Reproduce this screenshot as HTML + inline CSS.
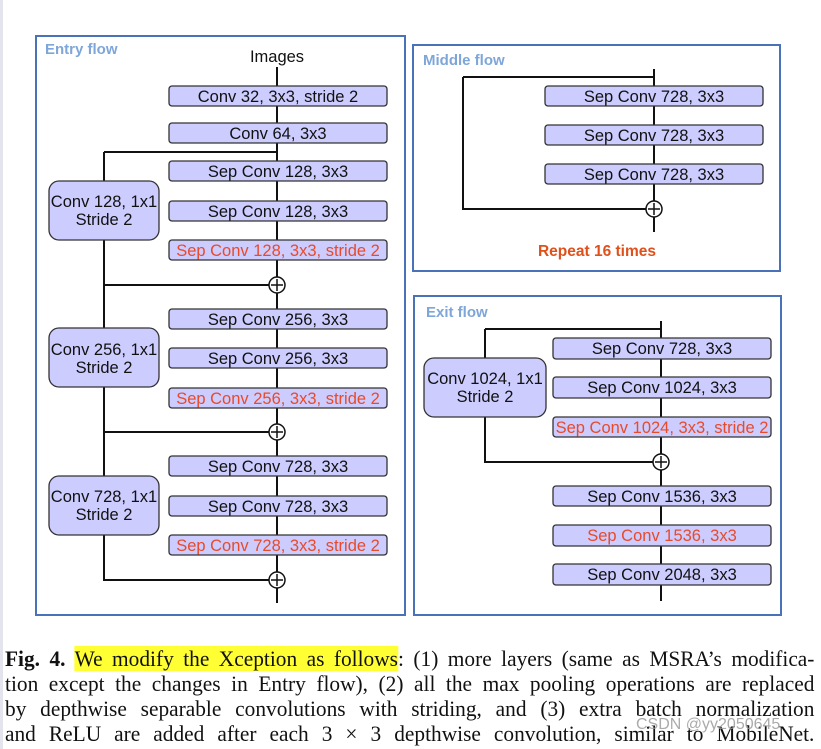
<!DOCTYPE html>
<html><head><meta charset="utf-8"><style>
html,body{margin:0;padding:0;background:#fff;width:821px;height:749px;overflow:hidden}
svg{position:absolute;left:0;top:0}
.cap{position:absolute;left:5px;top:646px;width:852px;font-family:"Liberation Serif",serif;font-size:22.5px;line-height:25px;color:#111;transform:scaleX(0.95);transform-origin:0 0}
.cap div{text-align:justify;text-align-last:justify;white-space:nowrap;height:25px}
.hl{background:#ffff33}
.wm{position:absolute;left:636px;top:716px;font-family:"Liberation Sans",sans-serif;font-size:16px;color:rgba(150,150,150,0.8)}
</style></head><body>
<svg width="821" height="749" font-family="Liberation Sans, sans-serif">
<rect x="0" y="0" width="3" height="749" fill="#e4e4ec"/>
<g fill="none" stroke="#4a72b8" stroke-width="2">
<rect x="36" y="36" width="369" height="579"/>
<rect x="413" y="45" width="367" height="226"/>
<rect x="414" y="296" width="367" height="319"/>
</g>
<g font-weight="bold" font-size="15" fill="#7ea6d8">
<text x="45" y="54">Entry  flow</text>
<text x="423" y="65">Middle  flow</text>
<text x="426" y="317">Exit  flow</text>
</g>
<g stroke="#111" stroke-width="2" fill="none">
<path d="M277 67V603M104 152H277M104 152V580H270M104 285H270M104 432H270"/>
<path d="M654 69V232M463 77H654M463 77V209H647"/>
<path d="M661 321V601M485 329H661M485 329V462H654"/>
</g>
<g fill="#ccccff" stroke="#333" stroke-width="1.3">
<rect x="169" y="86" width="218" height="20" rx="3"/>
<rect x="169" y="123" width="218" height="20" rx="3"/>
<rect x="169" y="161" width="218" height="20" rx="3"/>
<rect x="169" y="201" width="218" height="20" rx="3"/>
<rect x="169" y="240" width="218" height="20" rx="3"/>
<rect x="169" y="309" width="218" height="20" rx="3"/>
<rect x="169" y="348" width="218" height="20" rx="3"/>
<rect x="169" y="388" width="218" height="20" rx="3"/>
<rect x="169" y="456" width="218" height="20" rx="3"/>
<rect x="169" y="496" width="218" height="20" rx="3"/>
<rect x="169" y="535" width="218" height="20" rx="3"/>
<rect x="49" y="181" width="110" height="59" rx="10"/>
<rect x="49" y="328" width="110" height="59" rx="10"/>
<rect x="49" y="476" width="110" height="59" rx="10"/>
<rect x="545" y="86" width="218" height="20" rx="3"/>
<rect x="545" y="125" width="218" height="20" rx="3"/>
<rect x="545" y="164" width="218" height="20" rx="3"/>
<rect x="553" y="338" width="218" height="21" rx="3"/>
<rect x="553" y="377" width="218" height="21" rx="3"/>
<rect x="553" y="417" width="218" height="20" rx="3"/>
<rect x="553" y="486" width="218" height="20" rx="3"/>
<rect x="553" y="525" width="218" height="21" rx="3"/>
<rect x="553" y="564" width="218" height="21" rx="3"/>
<rect x="424" y="358" width="122" height="59" rx="10"/>
</g>
<g fill="#fff" stroke="#111" stroke-width="1.5">
<circle cx="277" cy="285" r="8"/><circle cx="277" cy="432" r="8"/><circle cx="277" cy="580" r="8"/>
<circle cx="654" cy="209" r="8"/><circle cx="661" cy="462" r="8"/>
</g>
<g stroke="#111" stroke-width="1.5">
<path d="M271 285H283M277 279V291M271 432H283M277 426V438M271 580H283M277 574V586M648 209H660M654 203V215M655 462H667M661 456V468"/>
</g>
<g font-size="16.5" text-anchor="middle" fill="#111">
<text x="277" y="62">Images</text>
<text x="278" y="102">Conv 32, 3x3, stride 2</text>
<text x="278" y="139">Conv 64, 3x3</text>
<text x="278" y="177">Sep Conv 128, 3x3</text>
<text x="278" y="217">Sep Conv 128, 3x3</text>
<text x="278" y="256" fill="#e84a2a">Sep Conv 128, 3x3, stride 2</text>
<text x="278" y="325">Sep Conv 256, 3x3</text>
<text x="278" y="364">Sep Conv 256, 3x3</text>
<text x="278" y="404" fill="#e84a2a">Sep Conv 256, 3x3, stride 2</text>
<text x="278" y="472">Sep Conv 728, 3x3</text>
<text x="278" y="512">Sep Conv 728, 3x3</text>
<text x="278" y="551" fill="#e84a2a">Sep Conv 728, 3x3, stride 2</text>
<text x="104" y="207">Conv 128, 1x1</text><text x="104" y="225">Stride 2</text>
<text x="104" y="355">Conv 256, 1x1</text><text x="104" y="373">Stride 2</text>
<text x="104" y="502">Conv 728, 1x1</text><text x="104" y="520">Stride 2</text>
<text x="654" y="102">Sep Conv 728, 3x3</text>
<text x="654" y="141">Sep Conv 728, 3x3</text>
<text x="654" y="180">Sep Conv 728, 3x3</text>
<text x="597" y="256" font-size="15.5" font-weight="bold" fill="#e0501a">Repeat 16 times</text>
<text x="662" y="354">Sep Conv 728, 3x3</text>
<text x="662" y="393">Sep Conv 1024, 3x3</text>
<text x="662" y="433" fill="#e84a2a">Sep Conv 1024, 3x3, stride 2</text>
<text x="662" y="502">Sep Conv 1536, 3x3</text>
<text x="662" y="541" fill="#e84a2a">Sep Conv 1536, 3x3</text>
<text x="662" y="580">Sep Conv 2048, 3x3</text>
<text x="485" y="384">Conv 1024, 1x1</text><text x="485" y="402">Stride 2</text>
</g>
</svg>
<div class="cap">
<div><b>Fig. 4.</b> <span class="hl">We modify the Xception as follows</span>: (1) more layers (same as MSRA’s modifica-</div>
<div>tion except the changes in Entry flow), (2) all the max pooling operations are replaced</div>
<div>by depthwise separable convolutions with striding, and (3) extra batch normalization</div>
<div>and ReLU are added after each 3 × 3 depthwise convolution, similar to MobileNet.</div>
</div>
<div class="wm">CSDN @yy2050645</div>
</body></html>
